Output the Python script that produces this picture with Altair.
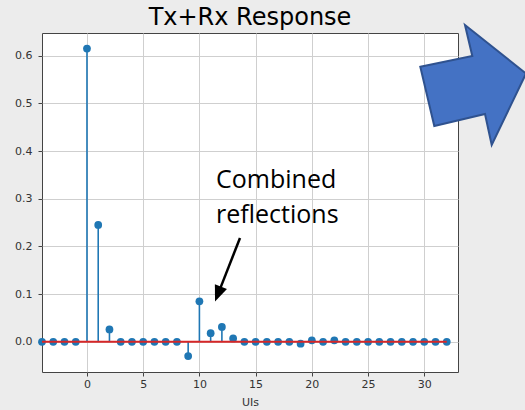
import altair as alt
import pandas as pd

# Combined transmitter + receiver pulse response, one sample per UI
uis = list(range(-4, 33))
response = [
    0.0, 0.0, 0.0, 0.0,
    0.615, 0.245, 0.026, 0.0, 0.0, 0.0, 0.0, 0.0, 0.0,
    -0.030, 0.085, 0.018, 0.031, 0.007,
    0.0, 0.0, 0.0, 0.0, 0.0,
    -0.004, 0.003, 0.0, 0.003,
    0.0, 0.0, 0.0, 0.0, 0.0, 0.0, 0.0, 0.0, 0.0, 0.0,
]
x_ticks = [0, 5, 10, 15, 20, 25, 30]
y_ticks = [0.0, 0.1, 0.2, 0.3, 0.4, 0.5, 0.6]

title_text = "Tx+Rx Response"
x_title = "UIs"
note_text = "Combined\nreflections"

STEM = "#1f77b4"
BASE = "#d62728"

df = pd.DataFrame({"ui": uis, "value": response, "zero": [0.0] * len(uis)})
baseline_df = pd.DataFrame({"start": [uis[0]], "end": [uis[-1]], "level": [0.0]})

x_scale = alt.Scale(domain=[-4, 33], nice=False, zero=False)
y_scale = alt.Scale(domain=[-0.0634, 0.6477], nice=False, zero=False)

x_axis = alt.Axis(values=x_ticks, title=x_title, titleFontSize=11,
                  titleFontWeight="normal", titleColor="#333",
                  titleFont="DejaVu Sans", titlePadding=7,
                  labelPadding=2, format="d")
y_axis = alt.Axis(values=y_ticks, title=None, format=".1f", labelPadding=6)

X = alt.X("ui:Q", scale=x_scale, axis=x_axis)
Y = alt.Y("value:Q", scale=y_scale, axis=y_axis)

base = alt.Chart(df)

stems = base.mark_rule(color=STEM, strokeWidth=1.6).encode(
    x=X, y=Y, y2=alt.Y2("zero:Q"))

markers = base.mark_circle(size=60, color=STEM, opacity=1).encode(x=X, y=Y)

baseline = alt.Chart(baseline_df).mark_rule(color=BASE, strokeWidth=2).encode(
    x=alt.X("start:Q", scale=x_scale, axis=x_axis),
    x2="end:Q",
    y=alt.Y("level:Q", scale=y_scale, axis=y_axis),
)

# Annotation pointing at the reflection cluster around UI 10-13
note_df = pd.DataFrame({"x": [11.48], "y": [0.3219], "label": [note_text]})
note = alt.Chart(note_df).mark_text(
    align="left", baseline="alphabetic", font="Open Sans", fontSize=25,
    lineBreak="\n", lineHeight=35, color="black",
).encode(x=alt.X("x:Q", scale=x_scale), y=alt.Y("y:Q", scale=y_scale),
         text="label:N")

shaft_df = pd.DataFrame({"x": [13.61], "y": [0.2177], "x2": [11.88], "y2": [0.1136]})
shaft = alt.Chart(shaft_df).mark_rule(color="black", strokeWidth=2.5).encode(
    x=alt.X("x:Q", scale=x_scale), y=alt.Y("y:Q", scale=y_scale),
    x2="x2:Q", y2="y2:Q")

head_df = pd.DataFrame({"x": [11.39], "y": [0.0845]})
head = alt.Chart(head_df).mark_point(
    shape="M0,0L-6.5,-16L6.5,-16Z", size=4, angle=21.6,
    filled=True, color="black", opacity=1,
).encode(x=alt.X("x:Q", scale=x_scale), y=alt.Y("y:Q", scale=y_scale))

title_df = pd.DataFrame({"t": [title_text]})
title = alt.Chart(title_df).mark_text(
    font="DejaVu Sans", fontSize=24, align="center", baseline="alphabetic",
    color="black",
).encode(x=alt.value(208), y=alt.value(-8), text="t:N")

# Block arrow decoration on the right edge
arrow_df = pd.DataFrame({"k": [0]})
block_arrow = alt.Chart(arrow_df).mark_point(
    shape="M-49.7,-18.3L2.3,-29L-5,-60L56,-11.5L21.7,60L15,29L-35.7,41Z",
    size=4, filled=True, fill="#4472c4", stroke="#2f528f", strokeWidth=2,
    opacity=1, fillOpacity=1,
).encode(x=alt.value(428), y=alt.value(52))

chart = alt.layer(
    stems, markers, baseline, shaft, head, note, title, block_arrow
).properties(
    width=416, height=339,
    autosize=alt.AutoSizeParams(type="none"),
    padding={"left": 42, "top": 33, "right": 67, "bottom": 38},
    background="#ececec",
).configure_view(
    fill="white", stroke="#444", strokeWidth=1,
).configure_axis(
    grid=True, gridColor="#cfcfcf", gridWidth=1,
    domain=False, tickColor="#444", tickSize=4,
    labelFont="DejaVu Sans", labelFontSize=11, labelColor="#333",
)

chart.save("out.html", embed_options={"renderer": "svg", "actions": False})
